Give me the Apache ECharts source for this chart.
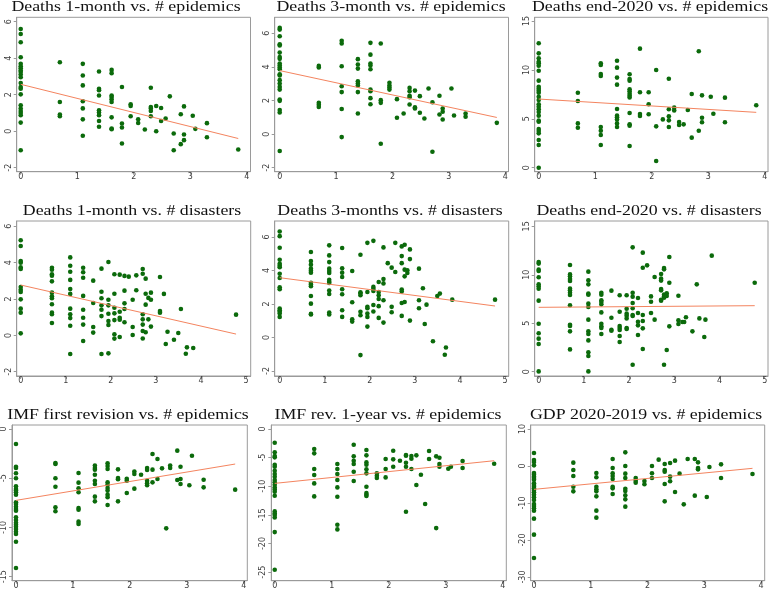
<!DOCTYPE html>
<html>
<head>
<meta charset="utf-8">
<script src="https://cdn.jsdelivr.net/npm/echarts@6/dist/echarts.min.js"></script>
<style>
html,body{margin:0;padding:0;background:#fff;}
#c{width:772px;height:591px;}
</style>
</head>
<body>
<div id="c"></div>
<script>
// ---------- DATA ----------
const titles = [
  'Deaths 1-month vs. # epidemics',
  'Deaths 3-month vs. # epidemics',
  'Deaths end-2020 vs. # epidemics',
  'Deaths 1-month vs. # disasters',
  'Deaths 3-months vs. # disasters',
  'Deaths end-2020 vs. # disasters',
  'IMF first revision vs. # epidemics',
  'IMF rev. 1-year vs. # epidemics',
  'GDP 2020-2019 vs. # epidemics'
];

// x levels (log of counts)
const epiLevels = [0, 0.693, 1.099, 1.386, 1.609, 1.792, 1.946, 2.079, 2.197, 2.303, 2.398, 2.485, 2.565, 2.639, 2.708, 2.833, 2.890, 3.045, 3.091, 3.296, 3.850];
const disLevels = [0, 0.693, 1.099, 1.386, 1.609, 1.792, 1.946, 2.079, 2.197, 2.303, 2.398, 2.485, 2.565, 2.708, 2.773, 2.833, 2.890, 3.091, 3.178, 3.219, 3.258, 3.401, 3.497, 3.555, 3.664, 3.689, 3.829, 4.779];

// y values grouped by x level
const deaths1mEpi = [
  [5.6,5.33,4.87,4.05,3.69,3.56,3.45,3.33,3.24,3.11,2.96,2.64,2.42,2.33,2.02,1.42,1.24,1.11,1.0,0.87,0.47,-1.04],
  [3.78,1.6,0.91,0.82],
  [3.69,3.05,2.51,1.64,1.25,0.65,-0.25],
  [3.27,2.33,2.24,1.96,1.15,1.02,0.87,0.56,0.24],
  [3.36,3.18,1.96,1.87,1.75,1.6,0.76,0.15,0.11],
  [2.42,0.42,0.2,-0.67],
  [1.47,1.38,0.82],
  [0.65,0.45],
  [0.09],
  [2.38,1.33,1.24,1.11,0.82],
  [1.38,0.0],
  [1.27,0.56],
  [0.69],
  [1.91],
  [-0.13,-1.04],
  [0.93,-0.71],
  [1.36,-0.18,-0.49],
  [0.85],
  [0.13],
  [0.44,-0.33],
  [-1.0]
];
const deaths3mEpi = [
  [6.32,6.22,5.82,5.35,5.27,4.85,4.59,4.48,4.2,4.08,3.96,3.86,3.56,3.49,3.21,3.01,2.81,2.65,2.06,1.98,1.43,1.29,-1.01],
  [4.06,3.96,1.86,1.74,1.62],
  [5.56,5.39,4.04,2.85,2.5,1.49,-0.18],
  [4.46,4.14,3.9,3.15,3.01,2.89,2.5,1.23],
  [5.43,4.73,4.2,4.08,3.86,2.65,2.55,2.14,1.78],
  [5.39,2.02,1.86,-0.57],
  [3.05,2.89,2.77,2.65],
  [2.08,0.97],
  [1.23],
  [2.75,2.55,2.28,2.2,1.76],
  [2.59,1.6,1.52],
  [2.26,1.27],
  [0.93],
  [2.71],
  [1.9,-1.05],
  [2.28,1.17],
  [1.52,1.33,0.87],
  [2.71],
  [1.11],
  [1.23,1.03],
  [0.67]
];
const deathsEndEpi = [
  [12.72,11.69,11.18,10.84,10.67,10.43,9.92,8.9,8.28,8.08,7.88,7.67,7.26,6.92,6.48,6.24,5.97,5.69,5.32,4.81,4.7,3.95,3.75,3.51,2.83,2.32,0],
  [7.67,6.82,4.53,4.09],
  [10.67,10.5,9.58,9.38,4.16,3.78,3.34,2.32],
  [10.94,10.23,9.21,8.49,6.0,5.32,5.15,4.94,4.53,4.16],
  [9.55,9.07,8.9,8.01,7.81,7.57,7.36,7.19,5.59,4.43,4.3,2.22],
  [12.17,7.71,5.49,5.28],
  [7.71,6.48,5.46],
  [9.99,4.23,0.68],
  [4.94],
  [9.1,5.97,5.25,4.84,4.16],
  [6.14,5.86],
  [4.67,4.36],
  [4.43],
  [5.9],
  [7.53,3.07],
  [11.9,3.78],
  [7.4,5.11,4.64],
  [7.26],
  [5.52],
  [7.16,4.64],
  [6.38]
];
const deaths1mDis = [
  [5.23,4.92,4.09,4.0,3.74,3.65,2.66,2.51,2.39,1.98,1.47,1.25,0.11],
  [3.72,3.61,3.36,3.28,2.97,2.35,2.15,2.04,1.71,1.25,1.16,0.68],
  [4.29,3.83,3.5,3.05,2.55,2.28,1.47,1.16,0.95,0.53,-1.03],
  [3.72,3.47,3.17,2.17,1.41,0.97,0.59,-0.31],
  [3.01,1.78,0.46,0.15],
  [3.67,2.4,2.04,1.65,1.41,1.06,-1.03],
  [4.04,1.96,1.65,1.19,0.79,0.57,-0.99],
  [3.36,2.29,1.52,1.21,0.84,0.06,-0.18],
  [3.34,1.3,0.97,0.86,-0.09],
  [3.27,2.46,1.76,1.45,0.72],
  [3.23],
  [1.96,0.46,0.02],
  [3.3,2.48],
  [3.65,3.39,1.16,0.88,0.59,0.24,-0.17],
  [3.12,2.29,1.69,0.17],
  [2.06,0.88],
  [2.35,1.96,0.48],
  [3.21,1.34,1.25],
  [2.28],
  [-0.48],
  [0.2],
  [-0.24],
  [0.13],
  [1.45],
  [-1.01],
  [-0.66],
  [-0.7],
  [1.14]
];
const deaths3mDis = [
  [6.33,6.05,5.36,4.64,4.4,4.29,4.19,3.81,3.55,3.0,2.88,1.73,1.63,1.53,1.43,1.23],
  [5.1,4.56,4.35,4.11,3.99,3.87,3.27,3.17,3.06,2.48,2.02,1.41,1.37],
  [5.5,4.9,4.5,4.11,3.97,3.85,3.45,3.33,3.25,2.8,2.6,1.49,1.37],
  [5.34,4.13,3.87,3.61,2.88,2.58,1.63,1.23],
  [3.97,2.1,1.09,0.95],
  [4.94,2.7,2.62,2.52,1.53,1.33,-1.05],
  [5.65,2.72,1.83,1.75,1.43,1.23,0.65],
  [5.77,3.02,2.9,2.78,1.94,1.55],
  [3.31,2.72,2.52,2.3,1.87,1.17],
  [5.38,3.49,3.23,2.22,0.89],
  [4.44],
  [4.17,1.83,1.51],
  [5.65,3.91],
  [5.44,4.86,4.44,2.86,2.74,2.06,1.29],
  [5.54,4.05,3.65,2.12],
  [4.01,3.85],
  [5.26,4.68,1.01],
  [4.11,2.22,1.75],
  [2.94],
  [0.81],
  [1.96],
  [-0.22],
  [2.48],
  [2.62],
  [-1.03],
  [-0.6],
  [2.26],
  [2.26]
];
const deathsEndDis = [
  [11.32,11.15,10.53,10.39,9.74,9.01,8.81,8.57,7.33,4.95,3.96,3.41,2.86,0.03],
  [11.01,10.04,9.84,9.56,9.36,8.57,8.39,8.15,7.91,6.85,4.85,4.71,4.16,2.3],
  [10.32,9.43,9.01,8.05,7.95,7.02,6.67,5.37,4.16,3.89,3.23,2.0,1.62,0.03],
  [8.15,7.95,7.36,7.19,6.95,6.12,4.95,4.68,4.51,3.89],
  [8.36,5.57,4.33,4.23],
  [7.88,6.19,4.71,4.51,4.3,3.68,3.06],
  [7.88,6.5,5.99,5.78,5.5,4.51,4.4],
  [12.83,8.15,7.74,7.09,6.54,5.85,5.74,0.72],
  [7.6,6.05,5.16,4.78,3.78],
  [12.28,10.73,5.85,5.23,4.47,2.34],
  [10.97],
  [7.77,7.22,6.05],
  [9.77,5.37],
  [10.08,9.6,9.4,8.53,8.39,7.43,7.33],
  [10.7,10.56,7.95,7.77,7.64,0.72],
  [8.08,7.81,2.24],
  [11.83,9.18,4.68],
  [7.84,5.3,4.92],
  [5.13],
  [5.13],
  [5.61],
  [4.16],
  [9.01],
  [5.5],
  [3.58],
  [5.37],
  [11.97],
  [9.18]
];
const imfFirstEpi = [
  [-1.52,-3.83,-3.96,-4.5,-5.01,-5.82,-6.1,-6.26,-6.43,-6.67,-7.45,-7.62,-7.89,-8.13,-8.3,-8.97,-9.24,-9.52,-9.72,-9.92,-10.16,-10.43,-10.67,-11.45,-14.12],
  [-3.45,-3.56,-5.01,-5.86,-7.96,-8.36],
  [-4.47,-5.45,-6.03,-6.43,-8.03,-8.2,-9.41,-9.65],
  [-3.72,-3.96,-4.13,-4.64,-5.25,-5.59,-6.87,-7.35],
  [-3.49,-3.76,-4.06,-5.42,-5.66,-5.99,-6.26,-6.67,-6.94,-7.72],
  [-4.1,-4.98,-5.11,-7.35],
  [-5.05,-5.25,-6.5],
  [-4.33,-4.57,-6.06],
  [-4.64],
  [-3.96,-4.17,-5.25,-5.52,-5.72],
  [-2.54,-4.13,-5.42],
  [-3.05,-5.08],
  [-4.0],
  [-10.09],
  [-3.72,-3.96],
  [-2.2,-5.18],
  [-3.83,-5.08,-5.59],
  [-5.72],
  [-2.71],
  [-5.15,-5.93],
  [-6.16]
];
const imfRevEpi = [
  [-2.39,-4.08,-4.72,-4.95,-6.24,-6.59,-7.28,-7.87,-8.33,-8.92,-9.32,-9.73,-10.2,-10.55,-10.96,-11.66,-14.39,-14.74,-15.03,-15.44,-18.01,-24.59],
  [-3.5,-4.25,-6.99,-8.04,-9.5,-11.77],
  [-6.12,-6.99,-7.87,-8.92,-10.2,-11.83,-16.72,-17.54],
  [-2.74,-4.78,-5.54,-6.12,-7.46,-9.09],
  [-3.67,-4.6,-5.83,-6.24,-7.05,-7.75,-10.08,-11.19,-11.48,-11.71],
  [-7.75,-8.16,-8.57],
  [-5.24,-6.99,-8.45],
  [-3.79,-5.3,-6.59],
  [-5.54],
  [-4.55,-4.66,-5.89,-6.59,-14.45],
  [-4.72,-5.19,-6.99],
  [-4.6,-9.79],
  [-7.98],
  [-13.11],
  [-3.85,-5.24],
  [-4.78,-17.31],
  [-5.01,-6.12,-6.59],
  [-6.93],
  [-6.59],
  [-5.59,-6.82],
  [-6.06]
];
const gdpEpi = [
  [3.51,1.62,1.08,0.18,-1.89,-2.34,-2.88,-3.24,-3.69,-4.68,-5.14,-5.59,-6.04,-6.49,-7.12,-7.75,-8.47,-9.19,-10.27,-10.81,-11.44,-12.07,-14.23,-18.56,-24.86],
  [0.9,-1.08,-2.7,-5.59,-6.85],
  [-1.89,-3.06,-5.59,-6.31,-6.85,-8.2,-12.07,-13.96],
  [1.89,-0.54,-1.98,-2.7,-3.51,-5.59,-6.04,-7.57],
  [3.69,0.0,-2.07,-3.24,-6.13,-6.76,-7.93,-9.01,-10.99],
  [-3.24,-3.96,-4.5],
  [-4.05,-4.95],
  [0.0,-1.98,-3.24],
  [1.71],
  [0.54,-1.08,-1.53,-4.86,-9.55],
  [0.81,-2.88,-4.14],
  [1.44,-7.03],
  [-2.07],
  [-10.36],
  [1.89],
  [1.89,-8.02],
  [0.99,-0.54,-0.9],
  [-8.38],
  [-0.27],
  [0.45,-3.24],
  [-2.16]
];

// fitted line values at x = 0 and at x = largest level
const fitStart = [2.57, 3.78, 7.02, 2.77, 3.57, 6.64, -7.25, -9.5, -6.31];
const fitEnd   = [-0.40, 0.99, 5.66, 0.07, 1.88, 6.81, -3.56, -5.54, -0.63];

// tick labels
const xTicksEpi = [0, 1, 2, 3, 4];
const xTicksDis = [0, 1, 2, 3, 4, 5];
const yTicksSmall = [-2, 0, 2, 4, 6];
const yTicksEnd = [0, 5, 10, 15];
const yTicksImf1 = [-15, -10, -5, 0];
const yTicksImf2 = [-25, -20, -15, -10, -5, 0];
const yTicksGdp = [-30, -20, -10, 0, 10];

// ---------- LAYOUT ----------
// box: [left, top, right, bottom] px ; xr / yr: axis ranges matching the box
const panels = [
  {cols: deaths1mEpi, lv: epiLevels, xt: xTicksEpi, yt: yTicksSmall, box:[16.7,17.3,250.5,171.7], xr:[-0.071,4.067], yr:[-2.219,6.241], tx:126, tb:11.5},
  {cols: deaths3mEpi, lv: epiLevels, xt: xTicksEpi, yt: yTicksSmall, box:[274.7,17.3,508.5,171.7], xr:[-0.089,4.057], yr:[-2.238,6.952], tx:391, tb:11.5},
  {cols: deathsEndEpi, lv: epiLevels, xt: xTicksEpi, yt: yTicksEnd, box:[534.7,17.3,768,171.7], xr:[-0.071,4.058], yr:[-0.409,15.378], tx:650, tb:11.5},
  {cols: deaths1mDis, lv: disLevels, xt: xTicksDis, yt: yTicksSmall, box:[16.7,221,250.7,376], xr:[-0.089,5.104], yr:[-2.237,6.292], tx:132, tb:216},
  {cols: deaths3mDis, lv: disLevels, xt: xTicksDis, yt: yTicksSmall, box:[274.7,221,508.7,376], xr:[-0.111,5.082], yr:[-2.299,6.955], tx:390, tb:216},
  {cols: deathsEndDis, lv: disLevels, xt: xTicksDis, yt: yTicksEnd, box:[534.7,221,768,376], xr:[-0.088,5.073], yr:[-0.444,15.547], tx:649, tb:216},
  {cols: imfFirstEpi, lv: epiLevels, xt: xTicksEpi, yt: yTicksImf1, box:[11.7,425,247.3,580.7], xr:[-0.070,4.063], yr:[-15.41,0.406], tx:128, tb:420},
  {cols: imfRevEpi, lv: epiLevels, xt: xTicksEpi, yt: yTicksImf2, box:[271.3,425,506.3,580.7], xr:[-0.060,4.063], yr:[-26.5,0.70], tx:388, tb:420},
  {cols: gdpEpi, lv: epiLevels, xt: xTicksEpi, yt: yTicksGdp, box:[530.7,425,764.7,580.7], xr:[-0.058,4.065], yr:[-31.0,11.08], tx:646, tb:420}
];

const GREEN = '#0b6a0b';
const FIT = '#f4845f';
const BOX = '#9a9a9a';
const LBL = '#3c3c3c';
const TITLE_SIZE = 15.5;

const grid = [], xAxis = [], yAxis = [], series = [], graphic = [];
panels.forEach((p, i) => {
  const [l, t, r, b] = p.box;
  grid.push({left: l, top: t, width: r - l, height: b - t, show: true, borderColor: BOX, borderWidth: 1, backgroundColor: '#fff', containLabel: false});
  const common = {
    type: 'value', gridIndex: i, scale: false,
    splitLine: {show: false},
    axisLine: {show: true, onZero: false, lineStyle: {color: BOX, width: 1}},
  };
  xAxis.push(Object.assign({}, common, {
    min: p.xr[0], max: p.xr[1],
    axisTick: {show: true, length: 3, customValues: p.xt, lineStyle: {color: BOX}},
    axisLabel: {customValues: p.xt, fontSize: 8, color: LBL, margin: 1, fontFamily: 'DejaVu Sans'}
  }));
  yAxis.push(Object.assign({}, common, {
    min: p.yr[0], max: p.yr[1],
    axisTick: {show: true, length: 3, customValues: p.yt, lineStyle: {color: BOX}},
    axisLabel: {customValues: p.yt, fontSize: 8, color: LBL, margin: 4, rotate: 90, fontFamily: 'DejaVu Sans'}
  }));
  const pts = [];
  p.lv.forEach((x, k) => (p.cols[k] || []).forEach(y => pts.push([x, y])));
  series.push({
    type: 'scatter', xAxisIndex: i, yAxisIndex: i, data: pts,
    symbol: 'circle', symbolSize: 4.6, itemStyle: {color: GREEN, opacity: 1}, silent: true, z: 3
  });
  const xmax = p.lv[p.lv.length - 1];
  series.push({
    type: 'line', xAxisIndex: i, yAxisIndex: i,
    data: [[0, fitStart[i]], [xmax, fitEnd[i]]],
    symbol: 'none', lineStyle: {color: FIT, width: 1}, silent: true, z: 4
  });
  graphic.push({
    type: 'text', x: p.tx, y: p.tb - 0.3 * TITLE_SIZE, scaleX: 1.15, silent: true,
    style: {
      text: titles[i], align: 'center', verticalAlign: 'middle',
      font: 'normal ' + TITLE_SIZE + 'px "Liberation Serif"', fill: '#111'
    }
  });
});

const chart = echarts.init(document.getElementById('c'), null, {renderer: 'canvas'});
chart.setOption({
  animation: false,
  backgroundColor: '#fff',
  grid, xAxis, yAxis, series, graphic
});
</script>
</body>
</html>
